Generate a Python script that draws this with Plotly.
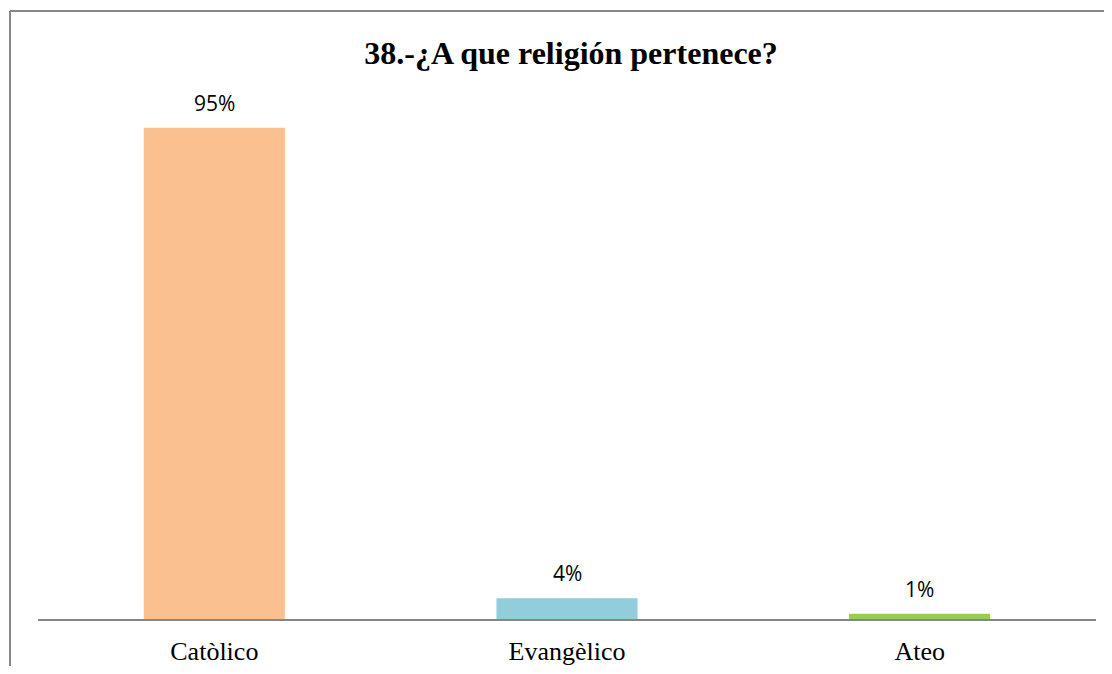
import plotly.graph_objects as go

categorias = ['Catòlico', 'Evangèlico', 'Ateo']
porcentajes = [95, 4, 1]
etiquetas = ['95%', '4%', '1%']
colores = ['#FAC090', '#92CDDC', '#92D050']

# la pagina deja 8px de margen en el body: la figura debe caber en 1112x674
OFF = 8
W, H = 1112 - 2 * OFF, 674 - 2 * OFF
ml, mr, mt, mb = 30, 8, 94, 47
pw, ph = W - ml - mr, H - mt - mb


def px_x(p):
    return (p - OFF - ml) / pw


def px_y(p):
    return (H - mb - (p - OFF)) / ph


fig = go.Figure(go.Bar(
    x=categorias,
    y=porcentajes,
    marker=dict(color=colores, line=dict(width=0)),
    width=0.4,
    hovertemplate='%{x}: %{y}%<extra></extra>'
))

for cat, val, txt in zip(categorias, porcentajes, etiquetas):
    fig.add_annotation(
        x=cat, y=val, text=txt, showarrow=False,
        yanchor='bottom', yshift=9,
        font=dict(family='Open Sans, Liberation Sans, sans-serif', size=21, color='#000000')
    )

# marco del grafico
fig.add_shape(type='line', xref='paper', yref='paper',
              x0=px_x(10), x1=px_x(1120), y0=px_y(11), y1=px_y(11),
              line=dict(color='#878787', width=2))
fig.add_shape(type='line', xref='paper', yref='paper',
              x0=px_x(10), x1=px_x(10), y0=px_y(11), y1=px_y(680),
              line=dict(color='#878787', width=2))

fig.update_layout(
    width=W, height=H,
    margin=dict(l=ml, r=mr, t=mt, b=mb),
    paper_bgcolor='white', plot_bgcolor='white',
    showlegend=False,
    title=dict(
        text='<b>38.-¿A que religión pertenece?</b>',
        x=px_x(571), xanchor='center', xref='paper',
        y=1 - (53 - OFF) / H, yanchor='middle',
        font=dict(family='Liberation Serif, Times New Roman, serif', size=32, color='#000000')
    ),
    xaxis=dict(
        showline=True, linecolor='#868686', linewidth=2,
        showgrid=False, ticks='', ticklabelstandoff=8, automargin=False,
        tickfont=dict(family='Liberation Serif, Times New Roman, serif', size=26, color='#000000')
    ),
    yaxis=dict(
        range=[0, 100], visible=False, showgrid=False, zeroline=False, automargin=False
    ),
)

fig.write_html('out.html')
